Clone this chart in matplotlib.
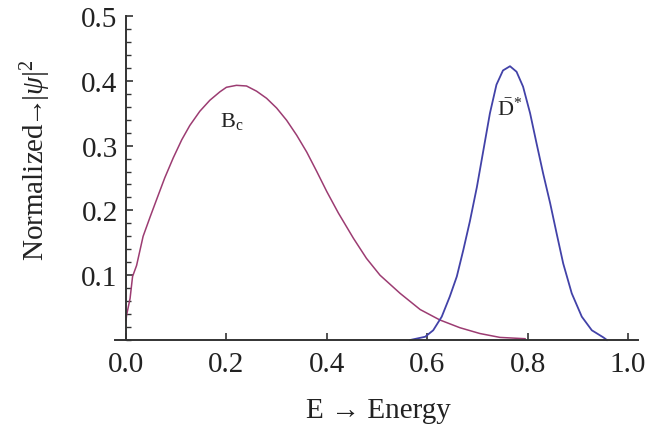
import matplotlib
matplotlib.use("Agg")
import matplotlib.pyplot as plt
from matplotlib.ticker import MultipleLocator

plt.rcParams['font.family'] = ['Liberation Serif', 'DejaVu Serif']
plt.rcParams['mathtext.fontset'] = 'custom'
plt.rcParams['mathtext.rm'] = 'Liberation Serif'
plt.rcParams['mathtext.it'] = 'Liberation Serif:italic'
plt.rcParams['mathtext.bf'] = 'Liberation Serif:bold'

# ---- data ----
bc_E = [0.0, 0.001, 0.008, 0.013, 0.021, 0.034, 0.048, 0.061, 0.077, 0.094,
        0.111, 0.127, 0.147, 0.167, 0.187, 0.200, 0.220, 0.240, 0.260, 0.280,
        0.300, 0.320, 0.340, 0.360, 0.380, 0.400, 0.423, 0.453, 0.479, 0.506,
        0.546, 0.586, 0.625, 0.665, 0.705, 0.745, 0.795]
bc_psi2 = [0.030, 0.038, 0.064, 0.098, 0.115, 0.160, 0.190, 0.217, 0.250, 0.281,
           0.309, 0.331, 0.353, 0.370, 0.383, 0.390, 0.393, 0.392, 0.384, 0.373,
           0.358, 0.339, 0.316, 0.290, 0.260, 0.229, 0.196, 0.157, 0.126, 0.100,
           0.072, 0.047, 0.031, 0.019, 0.010, 0.004, 0.002]

dstar_E = [0.566, 0.596, 0.612, 0.629, 0.645, 0.659, 0.672, 0.685, 0.699, 0.712,
           0.725, 0.738, 0.751, 0.765, 0.778, 0.791, 0.805, 0.818, 0.831, 0.845,
           0.858, 0.871, 0.888, 0.908, 0.928, 0.951, 0.958]
dstar_psi2 = [0.000, 0.005, 0.015, 0.036, 0.067, 0.098, 0.139, 0.183, 0.236, 0.293,
              0.350, 0.394, 0.416, 0.4225, 0.414, 0.391, 0.350, 0.303, 0.257, 0.211,
              0.164, 0.118, 0.072, 0.036, 0.015, 0.004, 0.000]

x_ticks = [0.0, 0.2, 0.4, 0.6, 0.8, 1.0]
x_ticklabels = ['0.0', '0.2', '0.4', '0.6', '0.8', '1.0']
y_ticks = [0.1, 0.2, 0.3, 0.4, 0.5]
y_ticklabels = ['0.1', '0.2', '0.3', '0.4', '0.5']

bc_color = '#9C3C72'
dstar_color = '#4242A8'
text_color = '#222222'
axis_color = '#333333'

fig = plt.figure(figsize=(6.47, 4.35), dpi=100)
ax = fig.add_axes([115/647, 94/435, 523/647, 324/435])

ax.plot(bc_E, bc_psi2, color=bc_color, lw=1.1, clip_on=False)
ax.plot(dstar_E, dstar_psi2, color=dstar_color, lw=1.3, clip_on=False)

ax.set_xlim(-0.022, 1.02)
ax.set_ylim(0, 0.5)

for s in ['top', 'right']:
    ax.spines[s].set_visible(False)
ax.spines['left'].set_position(('data', 0))
ax.spines['left'].set_color(axis_color)
ax.spines['bottom'].set_color(axis_color)
ax.spines['left'].set_linewidth(1.4)
ax.spines['bottom'].set_linewidth(1.4)

ax.set_xticks(x_ticks)
ax.set_xticklabels(x_ticklabels)
ax.set_yticks(y_ticks)
ax.set_yticklabels(y_ticklabels)
ax.yaxis.set_minor_locator(MultipleLocator(0.02))

ax.tick_params(axis='both', which='major', direction='in', length=5, width=1.2,
               color=axis_color, labelsize=21, labelcolor=text_color)
ax.tick_params(axis='x', which='major', pad=8)
ax.tick_params(axis='y', which='major', pad=6)
ax.tick_params(axis='y', which='minor', direction='in', length=3.5, width=1.0,
               color=axis_color)

ax.text(0.21, 0.339, r'$\mathregular{B_c}$', fontsize=16, color=text_color,
        ha='center', va='center')
ax.text(0.765, 0.357, r'$\mathregular{\bar{D}^{*}}$', fontsize=16, color=text_color,
        ha='center', va='center')

fig.text(378/647, 1 - 411/435, 'E \u2192 Energy', fontsize=21, color=text_color,
         ha='center', va='center')
fig.text(36/647, 1 - 160/435, r'Normalized$\!\!\rightarrow\!\!|\psi|^2$', fontsize=21,
         color=text_color, ha='center', va='center', rotation=90)

fig.savefig('out.png', dpi=100)
